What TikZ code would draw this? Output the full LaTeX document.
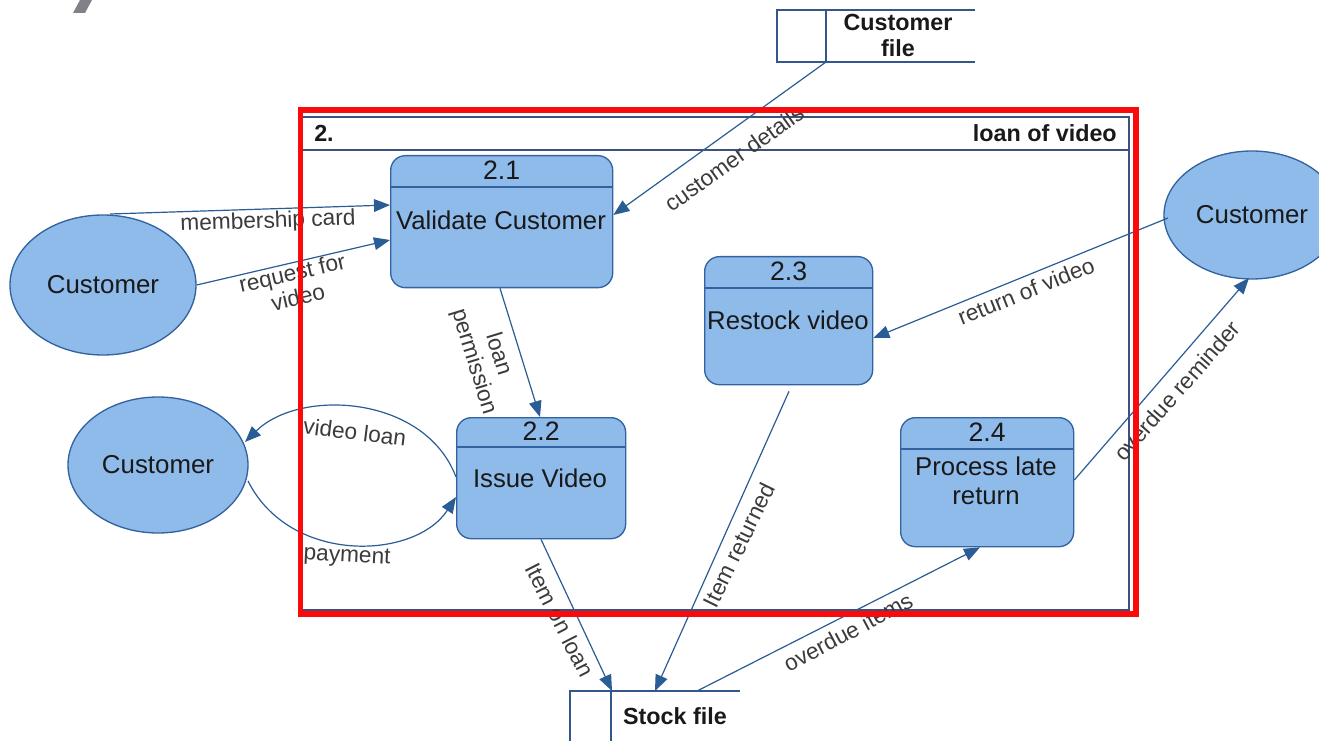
\documentclass[tikz,border=0pt]{standalone}
\usepackage{fontspec}
\setmainfont{Liberation Sans}
\usetikzlibrary{arrows.meta,calc,shapes.geometric}

\definecolor{procfill}{RGB}{143,187,234}
\definecolor{procline}{RGB}{50,98,160}
\definecolor{flowc}{RGB}{42,92,150}
\definecolor{framec}{RGB}{62,80,128}
\definecolor{storec}{RGB}{52,86,140}
\definecolor{inkc}{RGB}{25,25,25}
\definecolor{markred}{RGB}{250,10,10}
\definecolor{titlegrey}{RGB}{128,130,136}

\tikzset{
  procbox/.style={draw=procline, fill=procfill, line width=1pt, rounded corners=11pt, inner sep=0pt},
  extent/.style={ellipse, draw=procline, fill=procfill, line width=1pt, inner sep=0pt,
    text=inkc, font=\fontsize{19.4}{22}\selectfont},
  numtext/.style={text=inkc, font=\fontsize{20}{22}\selectfont, inner sep=0pt},
  proctext/.style={text=inkc, font=\fontsize{19.3}{21.5}\selectfont, inner sep=0pt, align=center},
  flowlabel/.style={text=inkc!85!white, font=\fontsize{17}{19}\selectfont, inner sep=0pt, align=center},
  storetext/.style={text=inkc, font=\bfseries\fontsize{17.5}{19.5}\selectfont, inner sep=0pt, align=center},
  storeline/.style={draw=storec, line width=1.1pt},
  flow/.style={draw=flowc, line width=0.9pt, -{Triangle[length=12pt,width=9.5pt]}},
  frameline/.style={draw=framec, line width=1.2pt}
}

\begin{document}
\begin{tikzpicture}[x=0.75pt,y=-0.75pt]
\useasboundingbox (0,0) rectangle (1319,741);

% remnant of the page heading
\fill[titlegrey] (73,13) -- (85,13) -- (92,0) -- (80,0) -- cycle;

% process frame for process 2
\draw[frameline] (302,117) rectangle (1129,610);
\draw[frameline] (302,150) -- (1129,150);
\node[storetext, anchor=west] (fnum) at (314,133) {2.};
\node[storetext, anchor=east] (fname) at (1117,133) {loan of video};

% data stores
\draw[storeline] (975,10) -- (777,10) -- (777,62) -- (975,62);
\draw[storeline] (826,10) -- (826,62);
\node[storetext] (cfile) at (898,35) {Customer\\file};
\coordinate (cfout) at (826,62);

\draw[storeline] (740,691) -- (570,691) -- (570,750);
\draw[storeline] (611,691) -- (611,750);
\node[storetext] (sfile) at (675,716) {Stock file};
\coordinate (sfin1) at (612,691);
\coordinate (sfin2) at (655,691);
\coordinate (sfout) at (697,691);

% external entities
\node[extent, minimum width=139.5pt, minimum height=105pt] (c1) at (103,285) {Customer};
\node[extent, minimum width=135pt, minimum height=102pt] (c2) at (158,465) {Customer};
\node[extent, minimum width=132pt, minimum height=96pt] (c3) at (1252,215) {Customer};

% processes
\node[procbox, anchor=north west, minimum width=166.5pt, minimum height=99pt] (p21) at (390,155) {};
\draw[procline, line width=1pt] ($(p21.north west)+(0,32)$) -- ($(p21.north east)+(0,32)$);
\node[numtext] (n21) at ($(p21.north)+(0,15)$) {2.1};
\node[proctext] (t21) at (501,220) {Validate Customer};

\node[procbox, anchor=north west, minimum width=126.75pt, minimum height=90.75pt] (p22) at (456,417) {};
\draw[procline, line width=1pt] ($(p22.north west)+(0,30)$) -- ($(p22.north east)+(0,30)$);
\node[numtext] (n22) at ($(p22.north)+(0,14)$) {2.2};
\node[proctext] (t22) at (540,478) {Issue Video};

\node[procbox, anchor=north west, minimum width=126pt, minimum height=96pt] (p23) at (704,256) {};
\draw[procline, line width=1pt] ($(p23.north west)+(0,32)$) -- ($(p23.north east)+(0,32)$);
\node[numtext] (n23) at ($(p23.north)+(0,15)$) {2.3};
\node[proctext] (t23) at (788,320) {Restock video};

\node[procbox, anchor=north west, minimum width=129.75pt, minimum height=96.75pt] (p24) at (900,417) {};
\draw[procline, line width=1pt] ($(p24.north west)+(0,32)$) -- ($(p24.north east)+(0,32)$);
\node[numtext] (n24) at ($(p24.north)+(0,15)$) {2.4};
\node[proctext] (t24) at (986,481) {Process late\\return};

% data flows
\draw[flow] ($(c1.center)+(7,-71)$) -- ($(p21.north west)+(0,50)$);
\node[flowlabel, rotate=2] (l1) at (268,222) {membership card};

\draw[flow] (c1.east) -- ($(p21.north west)+(0,85)$);
\node[flowlabel, rotate=13] (l2) at (295,285) {request for\\video};

\draw[flow] (cfout) -- ($(p21.north east)+(0,60)$);
\node[flowlabel, rotate=35.6] (l3) at (734,158) {customer details};

\draw[flow] ($(p21.south west)+(110,0)$) -- ($(p22.north west)+(84,0)$);
\node[flowlabel, rotate=-73] (l4) at (486,358) {loan\\permission};

\draw[flow] ($(p22.north west)+(0,60)$) .. controls (425,395) and (300,388) .. ($(c2.center)+(87,-23)$);
\node[flowlabel, rotate=-7] (l5) at (355,432) {video loan};

\draw[flow] ($(c2.center)+(90,16)$) .. controls (290,565) and (415,560) .. ($(p22.north west)+(0,80)$);
\node[flowlabel, rotate=-3] (l6) at (347,557) {payment};

\draw[flow] ($(p22.south west)+(85,0)$) -- (sfin1);
\node[flowlabel, rotate=-63] (l7) at (560,620) {Item on loan};

\draw[flow] ($(p23.south west)+(85,6)$) -- (sfin2);
\node[flowlabel, rotate=64] (l8) at (739,545) {Item returned};

\draw[flow] (sfout) -- ($(p24.south west)+(80,0)$);
\node[flowlabel, rotate=28] (l9) at (848,632) {overdue items};

\draw[flow] ($(c3.center)+(-84,3)$) -- ($(p23.north east)+(0,82)$);
\node[flowlabel, rotate=22] (l10) at (1026,291) {return of video};

\draw[flow] ($(p24.north east)+(0,63)$) -- ($(c3.center)+(-3,63)$);
\node[flowlabel, rotate=48.5] (l11) at (1177,391) {overdue reminder};

% highlight around process 2
\draw[markred, line width=4.2pt] (300.5,110) rectangle (1136,614);
\end{tikzpicture}
\end{document}
